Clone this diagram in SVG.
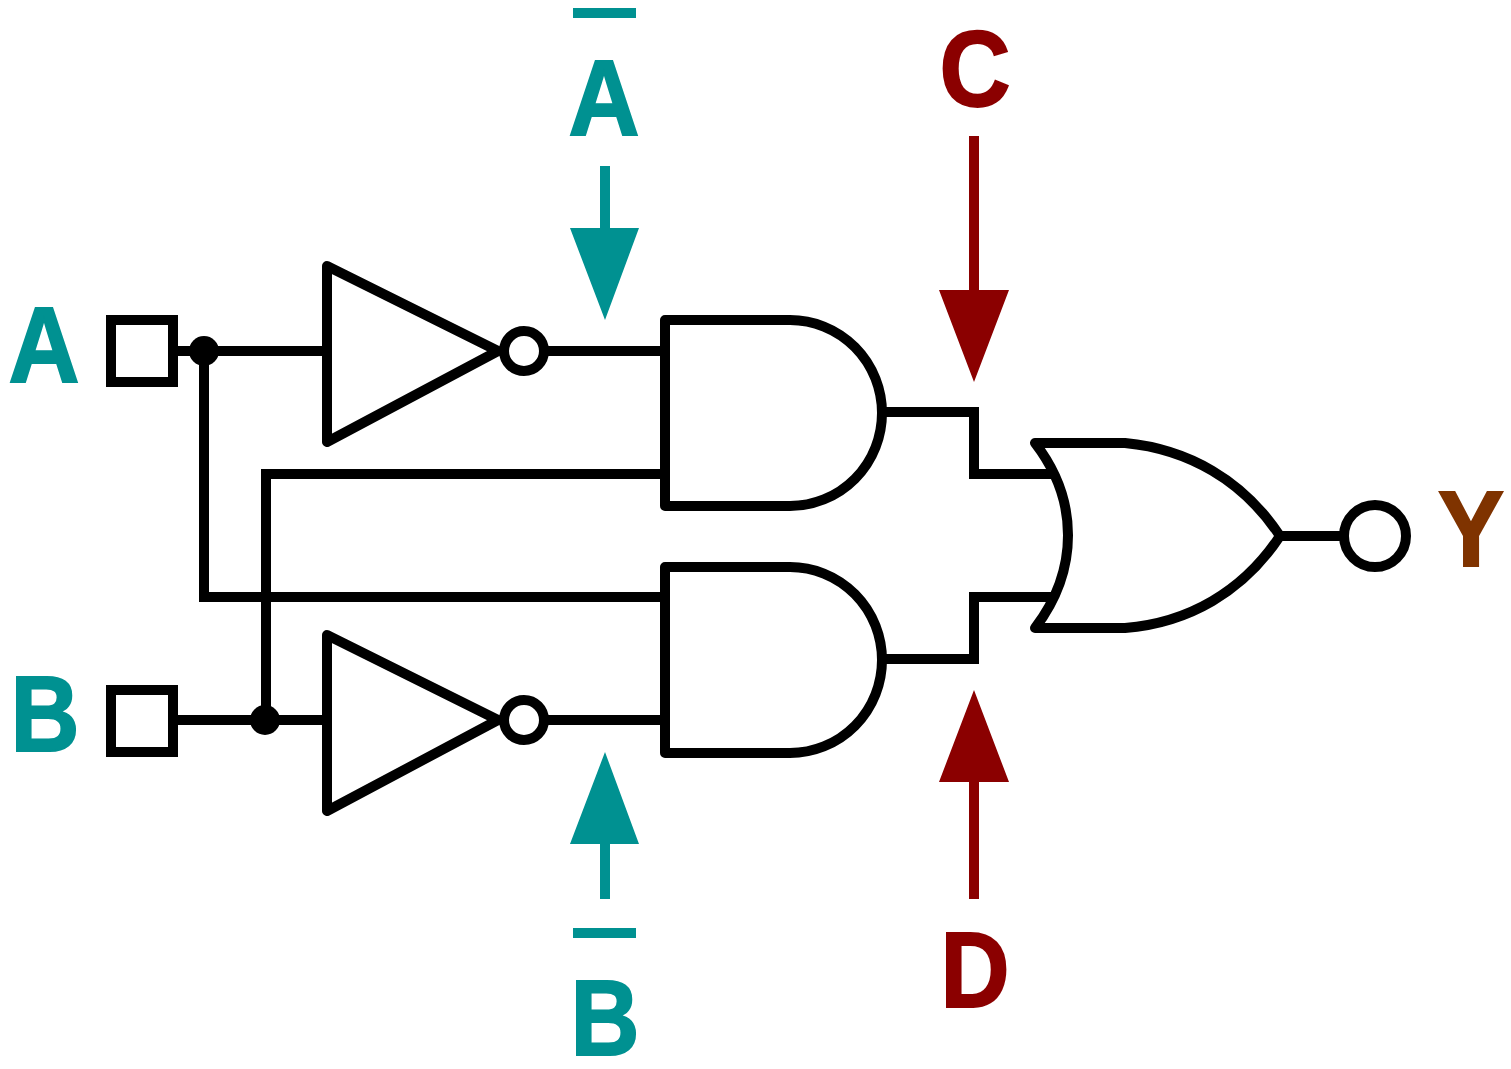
<svg xmlns="http://www.w3.org/2000/svg" width="1511" height="1069" viewBox="0 0 1511 1069">
<style>
.w{fill:none;stroke:#000;stroke-width:10;stroke-linejoin:miter}
.f{fill:#fff;stroke:#000;stroke-width:10;stroke-linejoin:round}
.b{fill:#fff;stroke:#000;stroke-width:10;stroke-linejoin:miter}
.t{font-family:"Liberation Sans",Arial,sans-serif;font-weight:700;font-size:108px;text-anchor:middle;stroke-width:2}
.teal{fill:#009191;stroke:#009191}
.red{fill:#8b0000;stroke:#8b0000}
.brown{fill:#7f3300;stroke:#7f3300}
.ar{stroke:none}
</style>
<rect width="1511" height="1069" fill="#fff"/>
<g id="connectors">
<path class="w" d="M178 351H327M545 351H665M665 474H266V720M178 720H327M545 720H665M204 351V597H665M884 412H974V474H1055M884 659H974V597H1055M1280 536H1342"/>
<circle cx="204" cy="351" r="15" fill="#000"/>
<circle cx="265" cy="720" r="15" fill="#000"/>
<g class="teal"><path class="ar" d="M600 166h10v62h29l-34 92-35-92h30z"/><path class="ar" d="M600 899h10v-55h29l-34-92-35 92h30z"/></g>
<g class="red"><path class="ar" d="M969 136h10v154h30l-35 92-35-92h30z"/><path class="ar" d="M969 899h10v-117h30l-35-92-35 92h30z"/></g>
</g>
<g id="inputA"><rect class="b" x="111" y="320" width="62" height="62"/><text class="t teal" x="44" y="381.500" textLength="71" lengthAdjust="spacingAndGlyphs">A</text></g>
<g id="inputB"><rect class="b" x="111" y="690" width="62" height="62"/><text class="t teal" x="45" y="751" textLength="69" lengthAdjust="spacingAndGlyphs">B</text></g>
<g id="not1"><path class="f" d="M327 266L498 351L327 442Z"/><circle class="f" cx="524" cy="351" r="20"/></g>
<g id="not2"><path class="f" d="M327 635L498 720L327 811Z"/><circle class="f" cx="524" cy="720" r="20"/></g>
<g id="and1"><path class="f" d="M665 320H790A92 93 0 0 1 790 506H665Z"/></g>
<g id="and2"><path class="f" d="M665 567H790A92 93 0 0 1 790 753H665Z"/></g>
<g id="or1"><path class="f" d="M1035 443H1125C1188 449 1243 480 1280 536C1243 592 1188 623 1125 628H1035C1079 570 1079 500 1035 443Z"/></g>
<g id="outputY"><circle class="f" cx="1375" cy="536" r="31"/><text class="t brown" x="1471" y="566" textLength="66" lengthAdjust="spacingAndGlyphs">Y</text></g>
<g id="labels">
<rect x="573" y="8" width="63" height="10" fill="#009191"/>
<text class="t teal" x="604" y="135" textLength="71" lengthAdjust="spacingAndGlyphs">A</text>
<rect x="573" y="928" width="63" height="10" fill="#009191"/>
<text class="t teal" x="605" y="1055" textLength="69" lengthAdjust="spacingAndGlyphs">B</text>
<text class="t red" x="975" y="106" textLength="71" lengthAdjust="spacingAndGlyphs">C</text>
<text class="t red" x="975" y="1007" textLength="69" lengthAdjust="spacingAndGlyphs">D</text>
</g>
</svg>
